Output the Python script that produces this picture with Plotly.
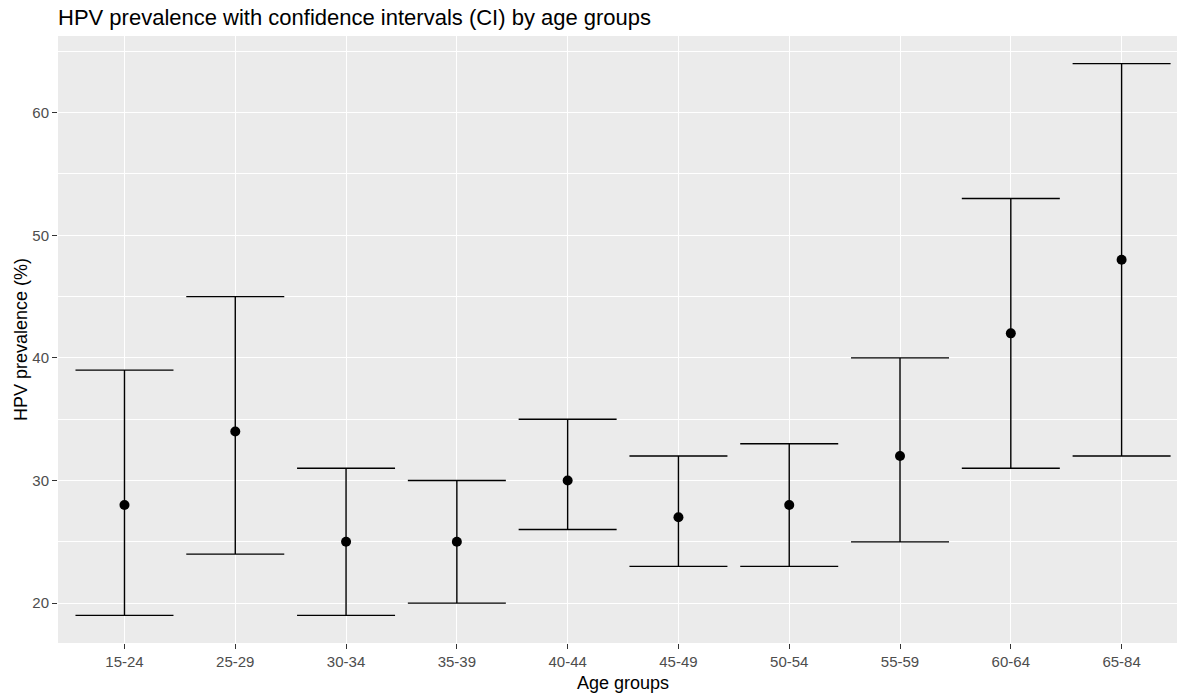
import plotly.graph_objects as go

age_groups = ["15-24", "25-29", "30-34", "35-39", "40-44", "45-49", "50-54", "55-59", "60-64", "65-84"]
prevalence = [28, 34, 25, 25, 30, 27, 28, 32, 42, 48]
ci_lower = [19, 24, 19, 20, 26, 23, 23, 25, 31, 32]
ci_upper = [39, 45, 31, 30, 35, 32, 33, 40, 53, 64]

err_plus = [u - p for u, p in zip(ci_upper, prevalence)]
err_minus = [p - l for p, l in zip(prevalence, ci_lower)]

FONT = "Liberation Sans, Arial, sans-serif"

fig = go.Figure()
fig.add_trace(go.Scatter(
    x=age_groups, y=prevalence, mode="markers",
    marker=dict(color="black", size=10),
    error_y=dict(type="data", symmetric=False, array=err_plus, arrayminus=err_minus,
                 color="black", thickness=1.4, width=49),
    showlegend=False,
))

fig.add_annotation(text="Age groups", xref="paper", yref="paper",
                   x=(623 - 58) / 1119, y=-(683 - 643) / 607,
                   xanchor="center", yanchor="middle", showarrow=False,
                   font=dict(size=18, color="black", family=FONT))

fig.update_layout(
    width=1177, height=694,
    margin=dict(l=58, r=0, t=36, b=51),
    paper_bgcolor="white",
    plot_bgcolor="#EBEBEB",
    font=dict(family=FONT, color="black"),
    title=dict(text="HPV prevalence with confidence intervals (CI) by age groups",
               x=58/1177, xanchor="left", xref="container",
               y=1 - 17/694, yanchor="middle", yref="container",
               font=dict(size=22, color="black", family=FONT)),
    xaxis=dict(
        type="category", range=[-0.6, 9.5],
        tickfont=dict(size=15, color="#4D4D4D"),
        showgrid=True, gridcolor="white", gridwidth=1.1,
        ticks="outside", ticklen=5, tickcolor="#333333", tickwidth=1,
        zeroline=False, showline=False,
    ),
    yaxis=dict(
        range=[16.75, 66.25],
        tickvals=[20, 30, 40, 50, 60],
        title=dict(text="HPV prevalence (%)", font=dict(size=18, color="black"), standoff=0),
        tickfont=dict(size=15, color="#4D4D4D"),
        showgrid=True, gridcolor="white", gridwidth=1.1,
        minor=dict(tickvals=[25, 35, 45, 55, 65], showgrid=True, gridcolor="white", gridwidth=0.5, ticks=""),
        ticks="outside", ticklen=5, tickcolor="#333333", tickwidth=1,
        zeroline=False, showline=False,
    ),
)

fig.write_html("out.html", config={"displayModeBar": False},
               post_script="document.body.style.margin='0';document.body.style.overflow='hidden';")
